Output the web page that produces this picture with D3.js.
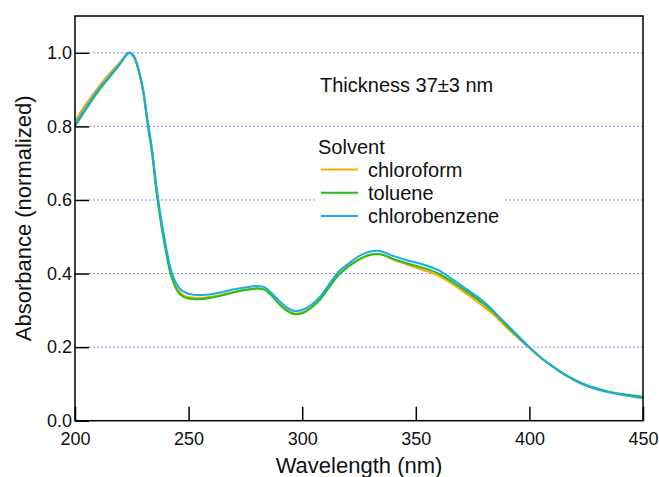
<!DOCTYPE html>
<html>
<head>
<meta charset="utf-8">
<script src="https://cdn.jsdelivr.net/npm/d3@7"></script>
<style>
  html, body { margin: 0; padding: 0; background: #fff; }
  svg { display: block; font-family: "Liberation Sans", Arial, sans-serif; }
</style>
</head>
<body>
<svg id="chart" width="659" height="477"></svg>
<script>
// Normalized UV-vis absorbance of films cast from three solvents
const wavelengths = [200,205,210,215,218,220,222,223,224,225,226,228,230,232,234,236,238,240,242,244,246,248,250,253,256,260,265,270,275,280,283,286,290,294,297,300,304,308,312,316,320,325,330,333,336,340,345,350,355,360,365,370,375,380,385,390,395,400,405,410,415,420,425,430,435,440,445,450];

const chloroform = [0.815,0.862,0.905,0.942,0.962,0.976,0.991,0.997,1.000,0.997,0.989,0.952,0.897,0.808,0.726,0.620,0.535,0.465,0.405,0.370,0.350,0.340,0.336,0.334,0.334,0.337,0.343,0.350,0.356,0.360,0.358,0.345,0.318,0.298,0.291,0.294,0.309,0.332,0.365,0.397,0.418,0.439,0.451,0.453,0.449,0.438,0.427,0.416,0.406,0.394,0.376,0.355,0.333,0.310,0.284,0.253,0.225,0.198,0.171,0.148,0.127,0.110,0.096,0.086,0.078,0.072,0.067,0.063];

const toluene = [0.800,0.848,0.893,0.932,0.955,0.971,0.989,0.997,1.000,0.996,0.988,0.952,0.895,0.805,0.722,0.615,0.530,0.460,0.400,0.365,0.345,0.336,0.332,0.330,0.331,0.334,0.341,0.349,0.355,0.359,0.357,0.343,0.316,0.296,0.289,0.292,0.307,0.330,0.364,0.396,0.417,0.438,0.451,0.453,0.450,0.440,0.430,0.421,0.412,0.400,0.382,0.361,0.340,0.317,0.290,0.258,0.228,0.199,0.172,0.149,0.128,0.111,0.097,0.087,0.079,0.073,0.069,0.065];

const chlorobenzene = [0.805,0.853,0.898,0.935,0.957,0.972,0.990,0.997,1.000,0.997,0.990,0.955,0.900,0.815,0.735,0.630,0.545,0.475,0.415,0.380,0.360,0.350,0.345,0.342,0.342,0.344,0.350,0.357,0.362,0.366,0.364,0.350,0.325,0.305,0.298,0.301,0.315,0.338,0.372,0.405,0.425,0.447,0.460,0.462,0.458,0.448,0.438,0.430,0.421,0.409,0.389,0.368,0.346,0.323,0.293,0.262,0.231,0.200,0.172,0.148,0.127,0.109,0.095,0.085,0.077,0.071,0.066,0.061];

const seriesNames = ["chloroform", "toluene", "chlorobenzene"];
const seriesColors = ["#FFA800", "#22C01A", "#1AAAF0"];
const xTicks = [200, 250, 300, 350, 400, 450];
const yTicks = [0.0, 0.2, 0.4, 0.6, 0.8, 1.0];

const series = [chloroform, toluene, chlorobenzene].map((vals, i) => ({
  name: seriesNames[i],
  color: seriesColors[i],
  points: wavelengths.map((w, j) => [w, vals[j]])
}));

const svg = d3.select("#chart");
const plot = { left: 75, right: 643, top: 16, bottom: 420.7 };

const x = d3.scaleLinear().domain([200, 450]).range([plot.left, plot.right]);
const y = d3.scaleLinear().domain([0, 1.1]).range([plot.bottom, plot.top]);
const tickLen = 14;

// dotted horizontal grid
svg.append("g")
  .selectAll("line")
  .data(yTicks.filter(d => d > 0))
  .join("line")
  .attr("x1", plot.left + tickLen)
  .attr("x2", plot.right)
  .attr("y1", d => y(d))
  .attr("y2", d => y(d))
  .attr("stroke", "#8a8af5")
  .attr("stroke-width", 1)
  .attr("stroke-dasharray", "2,2");

// spectra
const line = d3.line()
  .x(d => x(d[0]))
  .y(d => y(d[1]))
  .curve(d3.curveMonotoneX);

svg.append("g")
  .selectAll("path")
  .data(series)
  .join("path")
  .attr("d", d => line(d.points))
  .attr("fill", "none")
  .attr("stroke", d => d.color)
  .attr("stroke-width", 2);

// axes with inward ticks
const xAxis = svg.append("g")
  .attr("transform", `translate(0,${plot.bottom})`)
  .call(d3.axisBottom(x).tickValues(xTicks).tickFormat(d3.format("d"))
    .tickSizeInner(-tickLen).tickSizeOuter(0).tickPadding(11.5));

const yAxis = svg.append("g")
  .attr("transform", `translate(${plot.left},0)`)
  .call(d3.axisLeft(y).tickValues(yTicks).tickFormat(d3.format(".1f"))
    .tickSizeInner(-tickLen).tickSizeOuter(0).tickPadding(3));

[xAxis, yAxis].forEach(g => {
  g.select(".domain").remove();
  g.selectAll(".tick line").attr("stroke", "#000").attr("stroke-width", 1.5);
  g.selectAll(".tick text")
    .attr("fill", "#111")
    .style("font-size", "18px")
    .style("font-family", "'Liberation Sans', Arial, sans-serif");
});

// frame
svg.append("rect")
  .attr("x", plot.left)
  .attr("y", plot.top)
  .attr("width", plot.right - plot.left)
  .attr("height", plot.bottom - plot.top)
  .attr("fill", "none")
  .attr("stroke", "#000")
  .attr("stroke-width", 1.5);

// axis titles
svg.append("text")
  .attr("x", (plot.left + plot.right) / 2)
  .attr("y", 473)
  .attr("text-anchor", "middle")
  .style("font-size", "22px")
  .attr("fill", "#111")
  .text("Wavelength (nm)");

svg.append("text")
  .attr("transform", `translate(31,${(plot.top + plot.bottom) / 2}) rotate(-90)`)
  .attr("text-anchor", "middle")
  .style("font-size", "22px")
  .attr("fill", "#111")
  .text("Absorbance (normalized)");

// annotation
svg.append("text")
  .attr("x", 320)
  .attr("y", 92)
  .style("font-size", "20px")
  .attr("fill", "#111")
  .text("Thickness 37±3 nm");

// legend
const legend = svg.append("g");
legend.append("rect")
  .attr("x", 317).attr("y", 134)
  .attr("width", 188).attr("height", 94)
  .attr("fill", "#fff");

legend.append("text")
  .attr("x", 318).attr("y", 154)
  .style("font-size", "20px")
  .attr("fill", "#111")
  .text("Solvent");

const rows = legend.selectAll("g.row")
  .data(series)
  .join("g")
  .attr("class", "row")
  .attr("transform", (d, i) => `translate(0,${169.5 + i * 23.3})`);

rows.append("line")
  .attr("x1", 321).attr("x2", 358)
  .attr("stroke", d => d.color)
  .attr("stroke-width", 2);

rows.append("text")
  .attr("x", 368)
  .attr("y", 7)
  .style("font-size", "20px")
  .attr("fill", "#111")
  .text(d => d.name);
</script>
</body>
</html>
